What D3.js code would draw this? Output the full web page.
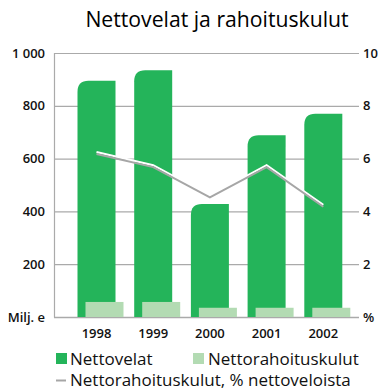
<!DOCTYPE html>
<html>
<head>
<meta charset="utf-8">
<script src="https://cdn.jsdelivr.net/npm/d3@7"></script>
<style>
  html, body { margin: 0; padding: 0; background: #fff; }
  svg { display: block; font-family: "Open Sans", "Noto Sans", sans-serif; }
</style>
</head>
<body>
<svg id="chart" width="382" height="392"></svg>
<script>
// Net debt and net financing costs, 1998–2002
const years = ["1998", "1999", "2000", "2001", "2002"];
const nettovelat = [895, 935, 428, 688, 770];            // Milj. e
const nettorahoituskulut = [57, 57, 35, 35, 35];         // Milj. e
const kulutProsentti = [6.2, 5.7, 4.55, 5.7, 4.2];       // % nettoveloista
const leftTicks = [0, 200, 400, 600, 800, 1000];
const rightTicks = [0, 2, 4, 6, 8, 10];

const svg = d3.select("#chart");
const plot = { left: 54, right: 359, top: 53, bottom: 317 };

const green = "#24b45a";
const lightGreen = "#b3dbb3";
const gridGray = "#aaaaaa";

const yLeft = d3.scaleLinear().domain([0, 1000]).range([plot.bottom, plot.top]);
const yRight = d3.scaleLinear().domain([0, 10]).range([plot.bottom, plot.top]);
// category positions: each slot starts with the green bar, the lighter bar is shifted right
const x = d3.scalePoint().domain(years).range([77.5, 77.5 + 4 * 56.7]);
const barW = 38;
const xStart = d => x(d);

// title
svg.append("text")
  .attr("x", 217).attr("y", 27)
  .attr("text-anchor", "middle")
  .attr("font-size", 21.2)
  .attr("fill", "#000")
  .text("Nettovelat ja rahoituskulut");

// gridlines
svg.append("g").selectAll("line")
  .data(leftTicks.filter(d => d > 0))
  .join("line")
  .attr("x1", plot.left).attr("x2", plot.right)
  .attr("y1", d => yLeft(d) + 0.5).attr("y2", d => yLeft(d) + 0.5)
  .attr("stroke", gridGray).attr("stroke-width", 1.2);

// left axis
const leftAxis = d3.axisLeft(yLeft).tickValues(leftTicks).tickSize(0).tickPadding(9)
  .tickFormat(d => d === 0 ? "Milj. e" : (d >= 1000 ? "1 000" : d));
const gL = svg.append("g").attr("transform", `translate(${plot.left},0)`).call(leftAxis);
gL.select(".domain").remove();
gL.selectAll("text").attr("font-size", 13).attr("font-weight", 600).attr("fill", "#111")
  .attr("font-family", "'Open Sans', sans-serif");

// right axis labels
const rightAxis = d3.axisRight(yRight).tickValues(rightTicks).tickSize(0).tickPadding(4)
  .tickFormat(d => d === 0 ? "%" : d);
const gR = svg.append("g").attr("transform", `translate(${plot.right},0)`).call(rightAxis);
gR.select(".domain").remove();
gR.selectAll("text").attr("font-size", 13).attr("font-weight", 600).attr("fill", "#111")
  .attr("font-family", "'Open Sans', sans-serif");

// vertical left line and baseline
svg.append("line").attr("x1", plot.left + 0.5).attr("x2", plot.left + 0.5)
  .attr("y1", plot.top).attr("y2", plot.bottom + 0.5)
  .attr("stroke", gridGray).attr("stroke-width", 1.2);
svg.append("line").attr("x1", plot.left).attr("x2", plot.right)
  .attr("y1", plot.bottom + 0.5).attr("y2", plot.bottom + 0.5)
  .attr("stroke", gridGray).attr("stroke-width", 1.4);

// bar with a rounded top-left corner
function roundedBar(x0, y0, w, h, r) {
  r = Math.min(r, h, w);
  return `M${x0},${y0 + h} L${x0},${y0 + r} Q${x0},${y0} ${x0 + r},${y0} L${x0 + w},${y0} L${x0 + w},${y0 + h} Z`;
}

svg.append("g").selectAll("path")
  .data(years)
  .join("path")
  .attr("d", (d, i) => {
    const y0 = yLeft(nettovelat[i]);
    return roundedBar(xStart(d), y0, barW, plot.bottom - y0, 11);
  })
  .attr("fill", green);

svg.append("g").selectAll("rect")
  .data(years)
  .join("rect")
  .attr("x", d => xStart(d) + 8)
  .attr("y", (d, i) => yLeft(nettorahoituskulut[i]))
  .attr("width", barW)
  .attr("height", (d, i) => plot.bottom - yLeft(nettorahoituskulut[i]))
  .attr("fill", lightGreen);

// x labels
svg.append("g").selectAll("text")
  .data(years)
  .join("text")
  .attr("x", d => xStart(d) + barW / 2)
  .attr("y", 338)
  .attr("text-anchor", "middle")
  .attr("font-size", 13)
  .attr("font-weight", 600)
  .attr("fill", "#111")
  .text(d => d);

// percentage line with a light highlight
const line = d3.line()
  .x((d, i) => xStart(years[i]) + barW / 2)
  .y(d => yRight(d));
svg.append("path").datum(kulutProsentti)
  .attr("d", line).attr("fill", "none")
  .attr("stroke", "#ffffff").attr("stroke-width", 2)
  .attr("transform", "translate(0,-1.3)");
svg.append("path").datum(kulutProsentti)
  .attr("d", line).attr("fill", "none")
  .attr("stroke", "#a6a6a6").attr("stroke-width", 2)
  .attr("transform", "translate(0,0.6)");

// legend
const lg = svg.append("g").attr("font-size", 17).attr("fill", "#111");
lg.append("rect").attr("x", 56).attr("y", 353).attr("width", 11).attr("height", 11).attr("fill", green);
lg.append("text").attr("x", 70).attr("y", 365).text("Nettovelat");
lg.append("rect").attr("x", 193).attr("y", 353).attr("width", 11).attr("height", 11).attr("fill", lightGreen);
lg.append("text").attr("x", 208).attr("y", 365).text("Nettorahoituskulut");
lg.append("line").attr("x1", 56).attr("x2", 66).attr("y1", 380.5).attr("y2", 380.5)
  .attr("stroke", "#a6a6a6").attr("stroke-width", 2);
lg.append("text").attr("x", 70).attr("y", 386).text("Nettorahoituskulut, % nettoveloista");
</script>
</body>
</html>
